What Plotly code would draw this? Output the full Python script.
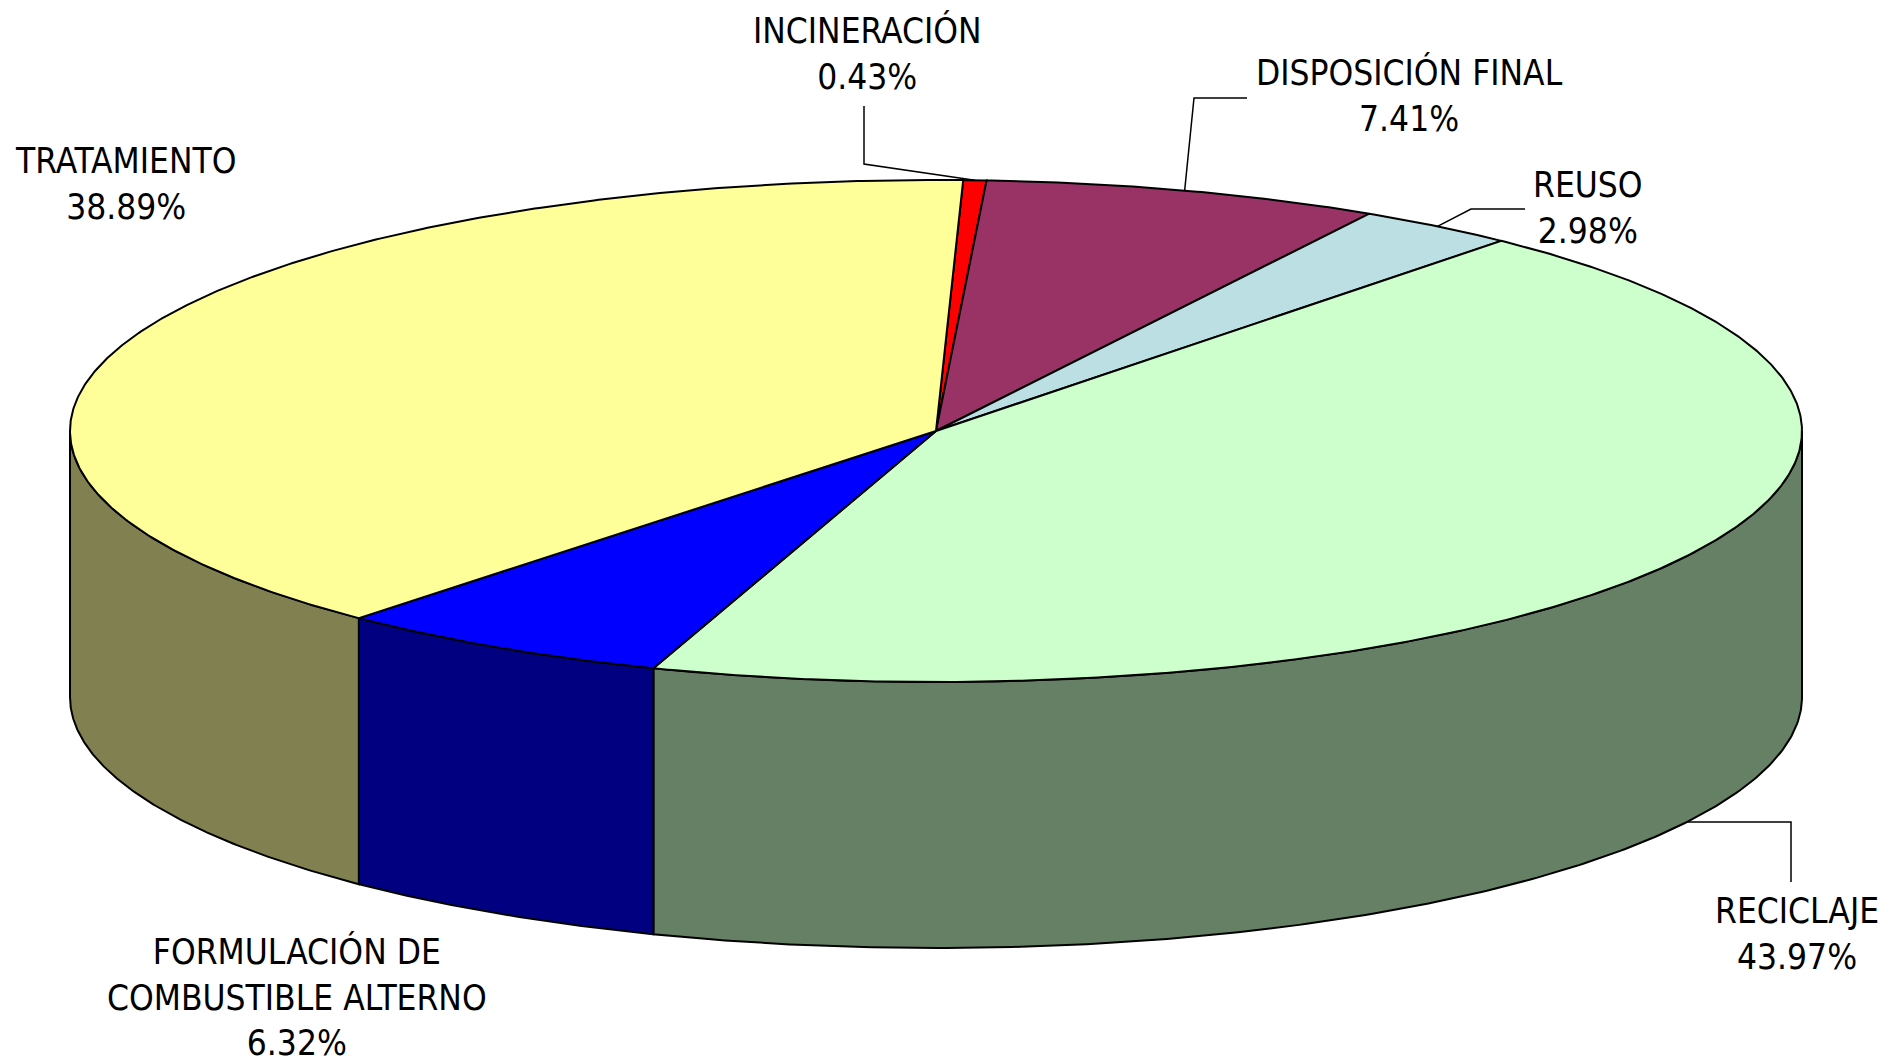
import numpy as np
import plotly.graph_objects as go

# ---- data ----
categories = ["INCINERACIÓN", "DISPOSICIÓN FINAL", "REUSO", "RECICLAJE",
              "FORMULACIÓN DE<br>COMBUSTIBLE ALTERNO", "TRATAMIENTO"]
values = [0.43, 7.41, 2.98, 43.97, 6.32, 38.89]
pct_labels = ["0.43%", "7.41%", "2.98%", "43.97%", "6.32%", "38.89%"]

top_colors = ["#FF0000", "#993366", "#BBDFE3", "#CCFFCC", "#0000FF", "#FFFF99"]
side_colors = ["#800000", "#4C1933", "#5E7072", "#668066", "#000080", "#808050"]

# ---- layout constants (pixel space) ----
W, H = 1890, 1062
CX, CY = 936, 431       # centre of top ellipse
RA, RB = 866, 251       # semi axes
DEPTH = 266
START = 1.8             # degrees, clockwise from top

label_pos = [(867, 53), (1409, 95), (1588, 208), (1797, 934), (297, 997), (125, 184)]
# leader elbows (label side first), None = no leader
leader_elbows = [
    [(864, 106), (864, 164)],
    [(1247, 98), (1194, 98)],
    [(1525, 209), (1471, 209)],
    [(1791, 882), (1791, 822)],
    None,
    None,
]


def pt(theta_deg, dy=0.0):
    t = np.radians(theta_deg)
    return CX + RA * np.sin(t), CY - RB * np.cos(t) + dy


fig = go.Figure()

total = float(sum(values))
angles = []
acc = START
for v in values:
    span = v / total * 360.0
    angles.append((acc, acc + span))
    acc += span

# side walls (front half only: 90..270 deg)
for i, (s, e) in enumerate(angles):
    for off in (0, 360, -360):
        lo = max(s + off, 90)
        hi = min(e + off, 270)
        if hi <= lo:
            continue
        th = np.linspace(lo, hi, 200)
        xt, yt = pt(th)
        xb, yb = pt(th[::-1], DEPTH)
        xs = np.concatenate([xt, xb, xt[:1]])
        ys = np.concatenate([yt, yb, yt[:1]])
        fig.add_trace(go.Scatter(x=xs, y=ys, mode="lines", fill="toself",
                                 fillcolor=side_colors[i],
                                 line=dict(color="#000000", width=2),
                                 hoverinfo="skip", showlegend=False))

# top faces
for i, (s, e) in enumerate(angles):
    n = max(int((e - s) * 3), 8)
    th = np.linspace(s, e, n)
    xa, ya = pt(th)
    xs = np.concatenate([[CX], xa, [CX]])
    ys = np.concatenate([[CY], ya, [CY]])
    fig.add_trace(go.Scatter(x=xs, y=ys, mode="lines", fill="toself",
                             fillcolor=top_colors[i],
                             line=dict(color="#000000", width=2),
                             hoverinfo="skip", showlegend=False))

# leader lines
for i, (s, e) in enumerate(angles):
    elb = leader_elbows[i]
    if elb is None:
        continue
    mid = (s + e) / 2.0
    if np.cos(np.radians(mid)) < 0:
        ex, ey = pt(mid, DEPTH)
    else:
        ex, ey = pt(mid)
    xs = [p[0] for p in elb] + [ex]
    ys = [p[1] for p in elb] + [ey]
    fig.add_trace(go.Scatter(x=xs, y=ys, mode="lines",
                             line=dict(color="#000000", width=1.5),
                             hoverinfo="skip", showlegend=False))

# labels
for i, cat in enumerate(categories):
    lx, ly = label_pos[i]
    fig.add_annotation(x=lx, y=ly, xref="x", yref="y",
                       text=f"{cat}<br>{pct_labels[i]}", showarrow=False,
                       xanchor="center", yanchor="middle", align="center",
                       font=dict(family="Liberation Sans Narrow, Arial Narrow, DejaVu Sans Condensed, sans-serif",
                                 size=35, color="#000000"))

fig.update_layout(
    width=W, height=H,
    margin=dict(l=0, r=0, t=0, b=0),
    paper_bgcolor="#FFFFFF", plot_bgcolor="#FFFFFF",
    xaxis=dict(range=[0, W], visible=False, fixedrange=True),
    yaxis=dict(range=[H, 0], visible=False, fixedrange=True),
    showlegend=False,
)

fig.write_html("out.html",
               config={"displayModeBar": False},
               post_script="document.body.style.margin='0';document.body.style.overflow='hidden';")
